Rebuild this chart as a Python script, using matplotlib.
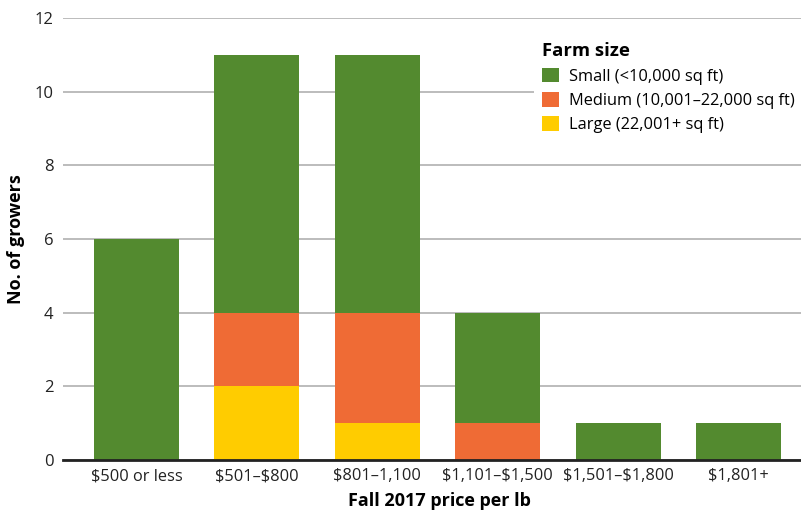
import matplotlib
matplotlib.use("Agg")
import matplotlib.pyplot as plt
import numpy as np

categories = ["$500 or less", "$501–$800", "$801–1,100", "$1,101–$1,500", "$1,501–$1,800", "$1,801+"]
large = [0, 2, 1, 0, 0, 0]
medium = [0, 2, 3, 1, 0, 0]
small = [6, 7, 7, 3, 1, 1]
series_labels = ["Small (<10,000 sq ft)", "Medium (10,001–22,000 sq ft)", "Large (22,001+ sq ft)"]
yticks = [0, 2, 4, 6, 8, 10, 12]

c_small = "#538A2F"
c_medium = "#EF6B35"
c_large = "#FFCC00"

plt.rcParams['font.family'] = ['Open Sans', 'DejaVu Sans']
plt.rcParams['text.parse_math'] = False

fig = plt.figure(figsize=(8.01, 5.14), dpi=100)
ax = fig.add_axes([63/801, 54/514, 1 - 63/801, (460-18)/514])

x = np.arange(len(categories))
w = 0.706
large_a = np.array(large)
medium_a = np.array(medium)
small_a = np.array(small)
b1 = ax.bar(x, large_a, w, color=c_large, zorder=2)
b2 = ax.bar(x, medium_a, w, bottom=large_a, color=c_medium, zorder=2)
b3 = ax.bar(x, small_a, w, bottom=large_a + medium_a, color=c_small, zorder=2)

ax.set_xlim(-0.61, 5.52)
ax.set_ylim(0, 12)
ax.set_yticks(yticks)
ax.set_yticklabels([str(t) for t in yticks], fontsize=12, color="#222222")
ax.set_xticks(x)
ax.set_xticklabels(categories, fontsize=11.8, color="#222222")
ax.tick_params(axis='both', length=0)
ax.tick_params(axis='y', pad=7)
ax.tick_params(axis='x', pad=6)
ax.yaxis.grid(True, color="#AAAAAA", linewidth=1.1, zorder=0)
ax.set_axisbelow(True)
for s in ["top", "right", "left"]:
    ax.spines[s].set_visible(False)
ax.spines["bottom"].set_color("#222222")
ax.spines["bottom"].set_linewidth(2)
ax.spines["bottom"].set_zorder(3)

ax.set_xlabel("Fall 2017 price per lb", fontsize=13, fontweight="bold")
ax.set_ylabel("No. of growers", fontsize=13, fontweight="bold")
ax.yaxis.set_label_coords(-0.052, 0.5)
ax.xaxis.set_label_coords(0.51, -0.073)

leg = ax.legend([b3, b2, b1], series_labels, title="Farm size",
                loc="upper left", bbox_to_anchor=(526/801, 1 - 26/514),
                bbox_transform=fig.transFigure,
                frameon=True, facecolor="white", edgecolor="none", framealpha=1,
                fontsize=11.8, handlelength=1.0, handleheight=1.0, handletextpad=0.6,
                labelspacing=0.45, borderpad=0.5, alignment="left", fancybox=False)
leg.get_title().set_fontweight("bold")
leg.get_title().set_fontsize(13.3)
leg.set_zorder(5)

fig.savefig("out.png", dpi=100, facecolor="white")
